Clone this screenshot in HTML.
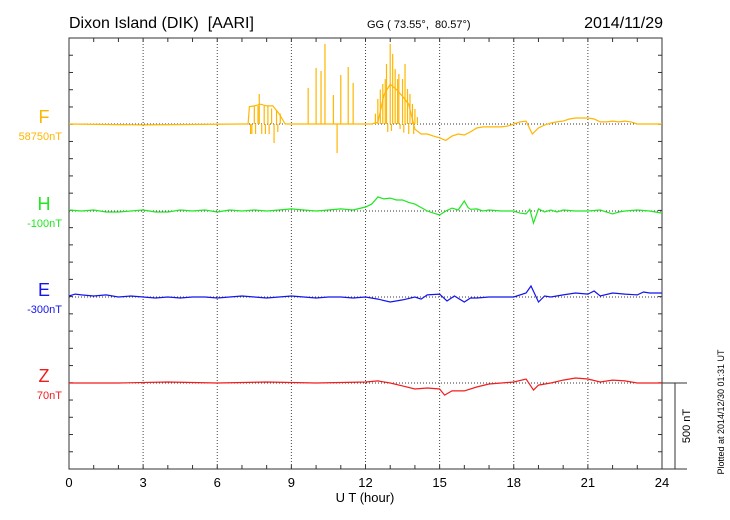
<!DOCTYPE html>
<html><head><meta charset="utf-8"><style>
body{margin:0;background:#fff}
svg{display:block;font-family:"Liberation Sans",sans-serif}
</style></head><body>
<svg id="c" width="730" height="520">
<text x="69" y="28" font-size="16">Dixon Island (DIK)&#160;&#160;[AARI]</text>
<text x="367" y="28" font-size="11">GG ( 73.55°,&#160;&#160;80.57°)</text>
<text x="663" y="28" font-size="16" text-anchor="end">2014/11/29</text>
<text x="365" y="502" font-size="13" text-anchor="middle">U T (hour)</text>
<text transform="translate(724,412) rotate(-90)" font-size="9" text-anchor="middle">Plotted at 2014/12/30 01:31  UT</text>
<text transform="translate(690,426) rotate(-90)" font-size="11" text-anchor="middle">500 nT</text>
<g id="g"></g>
</svg>
<script>
const xTicks=[0,3,6,9,12,15,18,21,24];
const seriesNames=["F","H","E","Z"];
const seriesBase=["58750nT","-100nT","-300nT","70nT"];
const fTimes=[0,3,7,7.25,7.3,7.5,7.75,8,8.25,8.5,8.75,9,12.25,12.5,12.75,13,13.25,13.5,13.75,14,14.25,14.5,14.75,15,15.25,15.5,15.75,16,16.25,16.5,16.75,17,17.5,17.75,18,18.25,18.5,18.75,19,19.25,19.5,19.75,20,20.25,20.5,20.75,21,21.25,21.5,21.75,22,22.25,22.5,22.75,23,24];
const fValues=[0,-5,0,0,100,105,115,105,105,60,0,0,0,10,170,230,200,160,115,-30,-58,-58,-70,-80,-95,-70,-58,-64,-46,-23,-17,-17,-17,-12,0,12,17,-58,-23,-6,6,12,17,29,35,35,35,29,12,12,17,12,17,12,0,0];
const fSpikeT=[7.35,7.4,7.5,7.55,7.65,7.7,7.8,7.9,7.95,8.05,8.1,8.2,8.3,8.4,8.45,8.55,9.68,10.0,10.2,10.36,10.7,10.85,11.0,11.3,11.5,12.4,12.5,12.6,12.7,12.8,12.85,13.0,13.1,13.2,13.3,13.35,13.5,13.6,13.7,13.8,13.9,14.0,14.1,12.9,13.05,13.4,13.55,13.75,13.95];
const fSpikeV=[-58,-58,105,-58,105,174,-58,105,-58,105,-58,90,-110,80,-46,60,209,325,307,464,168,-168,284,330,238,60,145,200,232,260,348,464,406,319,260,290,261,348,203,174,116,87,40,-46,-40,-29,-50,-58,-58];
const hTimes=[0,0.5,1,1.5,2,2.5,3,3.5,4,4.5,5,5.5,6,6.5,7,7.5,8,8.5,9,9.5,10,10.5,11,11.5,12,12.25,12.5,12.75,13,13.25,13.5,13.75,14,14.25,14.5,14.75,15,15.25,15.5,15.75,16,16.15,16.25,16.5,16.75,17,17.5,18,18.25,18.5,18.65,18.8,19,19.25,19.5,19.75,20,20.5,21,21.5,22,22.25,22.5,23,23.5,24];
const hValues=[6,0,6,-6,-6,0,6,-6,-6,6,0,6,-6,6,0,6,0,6,12,6,0,6,12,6,23,40,81,70,75,64,64,50,40,20,0,-12,-23,0,17,6,58,20,10,12,0,6,0,0,-12,-17,10,-70,12,-6,6,-6,6,0,0,6,-17,-6,0,6,0,-12];
const eTimes=[0,0.25,0.5,1,1.5,2,2.5,3,3.5,4,4.5,5,5.5,6,6.5,7,7.5,8,8.5,9,9.5,10,10.5,11,11.5,12,12.5,13,13.5,14,14.25,14.5,15,15.3,15.6,16,16.25,16.5,17,17.5,18,18.5,18.7,19,19.25,19.5,20,20.5,21,21.25,21.5,22,22.5,23,23.25,23.5,24];
const eValues=[6,17,12,6,12,0,6,0,-6,0,-6,0,0,-6,0,6,0,-6,0,6,0,-6,0,0,-6,0,-12,-29,-17,0,-12,12,17,-23,6,-29,-6,-6,0,0,0,23,64,-29,6,0,12,23,17,35,6,23,17,12,29,23,23];
const zTimes=[0,2,4,6,8,10,12,12.5,13,13.5,14,14.5,15,15.2,15.5,16,16.5,17,17.5,18,18.5,18.8,19,19.5,20,20.5,21,21.5,22,22.5,23,23.5,24];
const zValues=[0,0,6,0,6,0,6,12,0,-17,-35,-29,-35,-70,-46,-46,-23,-6,0,6,23,-41,-12,0,17,29,23,6,17,12,0,0,0];
const colors=["#ffb600","#1ee81e","#1414ee","#f21c1c"];

const L=69,R=662,T=38,B=469,base=[124,211,297,383];
const pxPerNT=86.3/500;
const x=h=>L+(R-L)*h/24;
const y=(i,v)=>base[i]-v*pxPerNT;
const NS="http://www.w3.org/2000/svg";
const g=document.getElementById('g');
function el(t,a){const e=document.createElementNS(NS,t);for(const k in a)e.setAttribute(k,a[k]);g.appendChild(e);return e;}

let e=el('rect',{x:L,y:T,width:R-L,height:B-T,fill:'none',stroke:'#333','stroke-width':1});


for(let h=1;h<24;h++){
  e=el('line',{x1:x(h),x2:x(h),y1:T,y2:T+4,stroke:'#333'});
  
  
  e=el('line',{x1:x(h),x2:x(h),y1:B,y2:B-4,stroke:'#333'});
  
  
}
for(let k=1;k<25;k++){
  const yy=T+k*(B-T)/25;
  e=el('line',{x1:L,x2:L+4,y1:yy,y2:yy,stroke:'#333'});
  
  
  e=el('line',{x1:R,x2:R-4,y1:yy,y2:yy,stroke:'#333'});
  
  
}
xTicks.forEach(h=>{
  if(h>0&&h<24){
    e=el('line',{x1:x(h),x2:x(h),y1:T,y2:B,stroke:'#444','stroke-dasharray':'1,2'});
    
    
  }
  e=el('text',{x:x(h),y:487,'font-size':13,'text-anchor':'middle'});
  e.textContent=h;
  
  
});
base.forEach((b,i)=>{
  e=el('line',{x1:L,x2:R,y1:b,y2:b,stroke:'#333','stroke-dasharray':'1,2'});
  
  
  e=el('text',{x:44,y:b-1,'font-size':18,'text-anchor':'middle',fill:colors[i]});
  e.textContent=seriesNames[i];
  
  
  e=el('text',{x:62,y:b+16,'font-size':11,'text-anchor':'end',fill:colors[i]});
  e.textContent=seriesBase[i];
  
  
});
e=el('path',{d:`M${R} 383 H687 M675 383 V${B} M${R} ${B} H687`,stroke:'#333',fill:'none'});


function line(i,ts,vs,name){
  const d=ts.map((t,k)=>(k?'L':'M')+x(t).toFixed(1)+' '+y(i,vs[k]).toFixed(1)).join(' ');
  const p=el('path',{d:d,fill:'none',stroke:colors[i],'stroke-width':1.2});
  
  
}
line(0,fTimes,fValues,'f-trace');
fSpikeT.forEach((t,k)=>{
  const s=el('line',{x1:x(t),x2:x(t),y1:y(0,0),y2:y(0,fSpikeV[k]),stroke:colors[0],'stroke-width':1.2});
  
  
});
line(1,hTimes,hValues,'h-trace');
line(2,eTimes,eValues,'e-trace');
line(3,zTimes,zValues,'z-trace');
</script>
</body></html>
